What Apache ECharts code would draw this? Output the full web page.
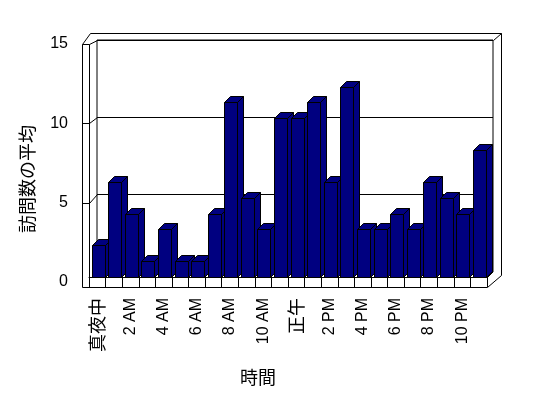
<!DOCTYPE html>
<html>
<head>
<meta charset="utf-8">
<script src="https://cdn.jsdelivr.net/npm/echarts@6/dist/echarts.min.js"></script>
<style>
    html, body { margin: 0; padding: 0; background: #fff; }
    #chart { width: 548px; height: 398px; }
</style>
</head>
<body>
<div id="chart"></div>
<script>
// 時間ごとの訪問数
const hours = [
    "真夜中", "1 AM", "2 AM", "3 AM", "4 AM", "5 AM", "6 AM", "7 AM",
    "8 AM", "9 AM", "10 AM", "11 AM", "正午", "1 PM", "2 PM", "3 PM",
    "4 PM", "5 PM", "6 PM", "7 PM", "8 PM", "9 PM", "10 PM", "11 PM"
];
const visits = [2, 6, 4, 1, 3, 1, 1, 4, 11, 5, 3, 10, 10, 11, 6, 12, 3, 3, 4, 3, 6, 5, 4, 8];
const yTicks = [0, 5, 10, 15];

const W = 548, H = 398;
// front plane / back wall / outer frame
const FRONT = { l: 89, r: 487, t: 39, b: 277 };
const BACK = { l: 97, r: 493, t: 40, b: 271 };
const OUT = { l: 82, r: 501, t: 33, b: 287 };
const WALL_TOP = 44;
const DEPTH = 6;
const NAVY = "#000080";
const LATIN = "'Liberation Sans', Arial, sans-serif";
const CJK = "'Noto Sans CJK JP', sans-serif";

const yMax = yTicks[yTicks.length - 1];
const yStep = yTicks[1] - yTicks[0];

const chart = echarts.init(document.getElementById("chart"), null, { renderer: "canvas" });

const px = v => Math.round(v) + 0.5;
const line = (pts, z) => ({
    type: "polyline",
    z: z || 1,
    shape: { points: pts.map(p => [px(p[0]), px(p[1])]) },
    style: { stroke: "#000", lineWidth: 1, fill: null }
});

// 左壁の目盛線
const wallFront = v => (OUT.b - 5) - v * ((OUT.b - 5) - WALL_TOP) / yMax;
const wallBack = v => BACK.b - v * (BACK.b - BACK.t) / yMax;
const wallLines = yTicks
    .filter(v => v > 0 && v < yMax)
    .map(v => line([[OUT.l, wallFront(v)], [FRONT.l, wallFront(v)], [BACK.l, wallBack(v)]]));

const frame = [
    // left wall
    line([[OUT.l, OUT.b], [OUT.l, WALL_TOP], [FRONT.l, WALL_TOP], [FRONT.l, FRONT.b]]),
    line([[OUT.l, WALL_TOP], [OUT.l + 8, OUT.t], [OUT.r, OUT.t], [OUT.r, OUT.b - 12]]),
    line([[FRONT.l, WALL_TOP], [BACK.l, BACK.t]]),
    line([[BACK.r, BACK.t], [OUT.r, OUT.t]]),
    // floor
    line([[OUT.l, OUT.b], [FRONT.r, OUT.b], [OUT.r, OUT.b - 12]], 10),
    line([[FRONT.r, FRONT.b], [BACK.r, BACK.b]], 10)
].concat(wallLines);

function renderBar(params, api) {
    const i = api.value(0);
    const top = api.coord([i, api.value(1)]);
    const base = api.coord([i, 0]);
    const bw = api.size([1, 0])[0];
    const x0 = Math.round(top[0] - bw * 0.5 + bw * 0.16) + 0.5;
    const w = Math.round(bw * 0.8);
    const y0 = Math.round(top[1]) + 0.5;
    const y1 = Math.round(base[1]) + 0.5;
    const d = DEPTH;
    const style = { fill: NAVY, stroke: "#000", lineWidth: 1 };
    return {
        type: "group",
        children: [
            {
                type: "polygon",
                shape: { points: [[x0 + w, y0], [x0 + w + d, y0 - d], [x0 + w + d, y1 - d], [x0 + w, y1]] },
                style: style
            },
            {
                type: "polygon",
                shape: { points: [[x0, y0], [x0 + d, y0 - d], [x0 + w + d, y0 - d], [x0 + w, y0]] },
                style: style
            },
            {
                type: "rect",
                shape: { x: x0, y: y0, width: w, height: y1 - y0 },
                style: style
            }
        ]
    };
}

const option = {
    animation: false,
    backgroundColor: "#fff",
    grid: [
        // front
        { left: FRONT.l, right: W - FRONT.r, top: FRONT.t, bottom: H - FRONT.b },
        // back wall
        {
            left: BACK.l, right: W - BACK.r, top: BACK.t, bottom: H - BACK.b,
            show: true, borderColor: "#000", borderWidth: 1, backgroundColor: "#fff"
        },
        // tick labels on the left wall
        { left: OUT.l, right: W - OUT.r, top: WALL_TOP, bottom: H - (OUT.b - 5) }
    ],
    xAxis: [
        {
            type: "category",
            gridIndex: 0,
            data: hours,
            axisLine: { show: true, lineStyle: { color: "#000", width: 1 }, onZero: false },
            axisTick: { show: true, length: 10, interval: 0, lineStyle: { color: "#000" } },
            axisLabel: {
                interval: 1,
                rotate: 90,
                margin: 21,
                color: "#000",
                fontSize: 16,
                fontFamily: LATIN,
                formatter: v => /[^\x00-\x7f]/.test(v) ? "{j|" + v + "}" : v,
                rich: { j: { fontSize: 18, fontFamily: CJK, color: "#000" } }
            },
            z: 10
        },
        { type: "category", gridIndex: 1, data: hours, show: false },
        { type: "category", gridIndex: 2, data: hours, show: false }
    ],
    yAxis: [
        {
            type: "value", gridIndex: 0, min: 0, max: yMax, interval: yStep,
            show: false, splitLine: { show: false }
        },
        {
            type: "value", gridIndex: 1, min: 0, max: yMax, interval: yStep,
            axisLine: { show: false }, axisTick: { show: false }, axisLabel: { show: false },
            splitLine: { show: true, lineStyle: { color: "#000", width: 1 } }
        },
        {
            type: "value", gridIndex: 2, min: 0, max: yMax, interval: yStep,
            axisLine: { show: false }, axisTick: { show: false }, splitLine: { show: false },
            axisLabel: { margin: 14, color: "#000", fontSize: 16, fontFamily: LATIN }
        }
    ],
    series: [
        {
            type: "custom",
            name: "訪問数の平均",
            xAxisIndex: 0,
            yAxisIndex: 0,
            renderItem: renderBar,
            encode: { x: 0, y: 1 },
            data: visits.map((v, i) => [i, v]),
            z: 5
        }
    ],
    graphic: frame.concat([
        {
            type: "text",
            x: 27, y: 179,
            rotation: Math.PI / 2,
            style: {
                text: "訪問数の平均", fill: "#000", font: "18px " + CJK,
                align: "center", verticalAlign: "middle"
            }
        },
        {
            type: "text",
            x: 258, y: 377,
            style: {
                text: "時間", fill: "#000", font: "18px " + CJK,
                align: "center", verticalAlign: "middle"
            }
        }
    ])
};

chart.setOption(option);
</script>
</body>
</html>
